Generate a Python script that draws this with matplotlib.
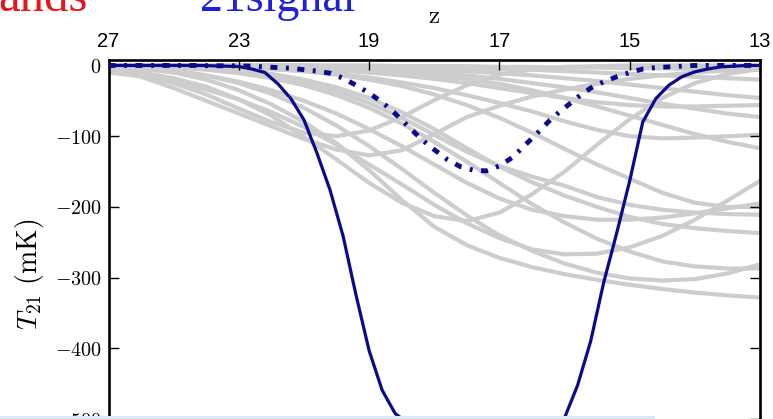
import matplotlib
matplotlib.use("Agg")
import matplotlib.pyplot as plt
import numpy as np
from matplotlib.patches import Rectangle

plt.rcParams['mathtext.fontset'] = 'cm'

# frequency grid (MHz) of the top axis; labelled with redshift z
nu_fine = np.arange(50, 101, 1)
nu_coarse = np.arange(50, 100.1, 2.5)
nu_ticks = [50, 60, 70, 80, 90, 100]
z_labels = ['27', '23', '19', '17', '15', '13']
t_ticks = [0, -100, -200, -300, -400, -500]
t_labels = [r'$0$', r'$-100$', r'$-200$', r'$-300$', r'$-400$', r'$-500$']

# EDGES-like flattened absorption profile (mK), 1 MHz steps
edges = [0, 0, 0, 0, 0, 0, 0, 0, -0.5, -1,
         -1.5, -5, -10, -26, -47, -77, -124, -176, -241, -325,
         -403, -459, -492, -506, -510, -510, -510, -510, -510, -510,
         -510, -510, -510, -510, -508, -498, -452, -390, -307, -237,
         -163, -80, -47, -28, -16, -9, -5, -2, -1, 0, 0]
# standard model, 1 MHz steps
standard = [0, 0, 0, 0, 0, 0, 0, 0, -0.5, -0.5,
            -0.5, -1, -2, -3, -4, -6, -8, -11, -18, -28,
            -39, -52, -68, -86, -104, -119, -133, -143, -148, -149,
            -142, -130, -112, -94, -75, -60, -45, -32, -23, -16,
            -10, -5, -3, -2, -1, 0, 0, 0, 0, 0, 0]

# grey family of models, 2.5 MHz steps
models = [
    [-7, -13, -25, -41, -61, -80, -95, -100, -92, -73, -49, -28, -13, -6, -2, -1, 0, 0, 0, 0, 0],
    [-8, -16, -32, -50, -68, -86, -104, -119, -127, -120, -97, -73, -57, -44, -34, -26, -19, -14, -10, -7, -5],
    [-5, -10, -18, -30, -48, -71, -101, -133, -166, -194, -213, -220, -208, -182, -150, -112, -76, -46, -25, -12, -5],
    [-10, -15, -23, -34, -48, -66, -87, -112, -140, -168, -197, -223, -244, -260, -267, -266, -257, -241, -218, -191, -163],
    [-2, -5, -10, -20, -35, -55, -80, -110, -148, -190, -228, -254, -272, -285, -295, -303, -310, -316, -321, -325, -328],
    [-1, -3, -7, -14, -25, -40, -60, -85, -114, -146, -180, -212, -240, -262, -280, -293, -301, -304, -302, -294, -281],
    [-2, -4, -8, -14, -23, -35, -50, -68, -90, -114, -140, -166, -188, -204, -213, -218, -218, -215, -209, -202, -195],
    [0, -1, -2, -4, -8, -14, -23, -36, -53, -74, -98, -122, -142, -157, -170, -186, -197, -204, -208, -210, -211],
    [0, -1, -2, -4, -7, -12, -20, -31, -46, -66, -90, -117, -143, -165, -184, -200, -214, -224, -230, -234, -237],
    [-1, -2, -3, -6, -11, -18, -28, -42, -60, -82, -108, -136, -166, -196, -222, -245, -263, -277, -284, -287, -287],
    [0, 0, -1, -2, -3, -5, -8, -13, -20, -29, -41, -56, -74, -95, -118, -140, -160, -180, -194, -200, -200],
    [0, 0, -1, -2, -3, -5, -8, -12, -17, -24, -32, -42, -53, -65, -79, -91, -100, -103, -102, -100, -98],
    [0, 0, 0, -1, -1, -2, -3, -5, -7, -10, -14, -19, -26, -35, -46, -58, -71, -84, -97, -108, -117],
    [0, 0, 0, 0, -1, -1, -2, -3, -5, -7, -10, -14, -19, -25, -31, -38, -46, -54, -61, -68, -73],
    [0, 0, 0, -1, -2, -3, -5, -7, -10, -14, -19, -25, -32, -39, -46, -52, -56, -58, -58, -57, -56],
    [0, 0, 0, 0, 0, -1, -1, -2, -3, -4, -6, -8, -11, -14, -18, -22, -27, -32, -37, -42, -46],
    [0, 0, 0, 0, 0, 0, 0, -1, -1, -2, -3, -4, -5, -6, -8, -10, -12, -14, -16, -18, -20],
    [0, 0, 0, 0, 0, 0, 0, 0, 0, -1, -1, -1, -2, -2, -3, -3, -4, -4, -5, -5, -6],
]

fig = plt.figure(figsize=(7.73, 4.19), dpi=100)
ax = fig.add_axes([0.1404, -0.0174, 0.8428, 0.8747])

for m in models:
    ax.plot(nu_coarse, m, color='#cdcdcd', lw=3.0, zorder=1)

ax.plot(nu_fine, edges, color='#0a0a8c', lw=2.3, zorder=3)
ax.plot(nu_fine, standard, color='#0a0a8c', lw=3.5, zorder=4,
        linestyle=(0, (1.45, 1.75, 0.6, 1.75)))

ax.set_xlim(50, 100)
ax.set_ylim(-510, 8)

ax.set_xticks(nu_ticks)
ax.set_xticklabels(z_labels, family='Liberation Sans', fontsize=14.5)
ax.set_yticks(t_ticks)
ax.set_yticklabels(t_labels, fontsize=14.5)

ax.tick_params(axis='x', top=True, bottom=True, labeltop=True, labelbottom=False,
               direction='in', length=7, width=1, pad=6)
ax.tick_params(axis='y', left=True, right=True, direction='in',
               length=7, width=1, pad=5)
for s in ax.spines.values():
    s.set_linewidth(1.9)

W, H = 773, 419
fig.text(434 / W, 1 - 16 / H, r'$\mathrm{z}$', fontsize=18, ha='center', va='center')
fig.text(30 / W, 1 - 274 / H, r'$T_{21}\ (\mathrm{mK})$', fontsize=20,
         rotation=90, ha='center', va='center')

# cropped slide titles at the very top
fig.text(-2 / W, 1 - 11 / H, 'ands', color='#e8141b', fontsize=35,
         family='Liberation Serif', ha='left', va='baseline')
fig.text(200 / W, 1 - 11 / H, '21signal', color='#1f1fe0', fontsize=33,
         family='Liberation Serif', ha='left', va='baseline')

fig.add_artist(Rectangle((0, 0), 655 / W, 3 / H, transform=fig.transFigure,
                         color='#dce8f5', lw=0))

fig.savefig('out.png', dpi=100)
